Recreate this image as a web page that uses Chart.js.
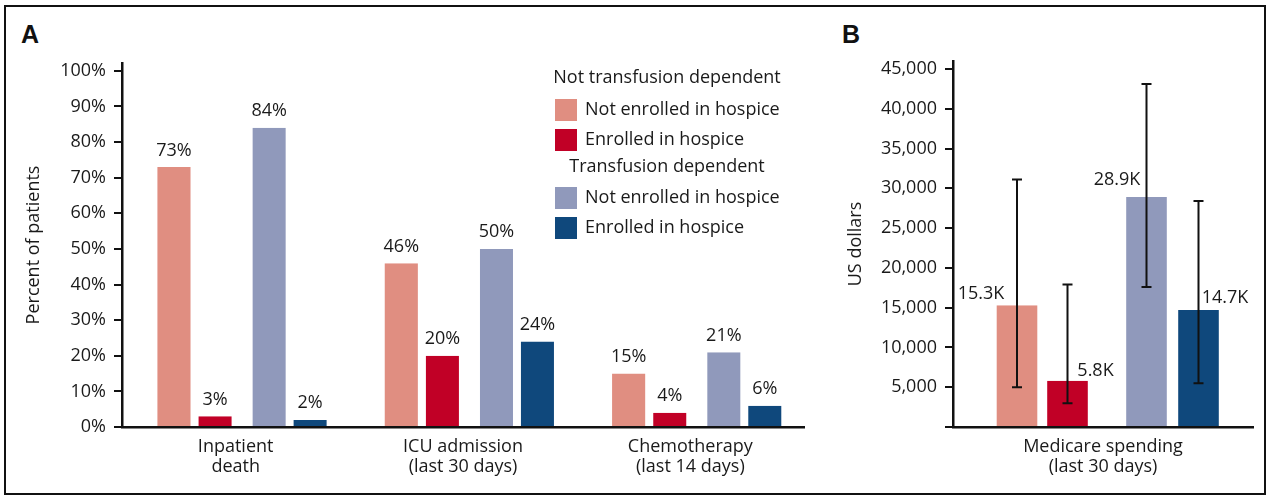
<!DOCTYPE html>
<html lang="en">
<head>
<meta charset="UTF-8" />
<title>Hospice enrollment outcomes</title>
<script src="https://cdn.jsdelivr.net/npm/chart.js"></script>
<style>
  body { margin: 0; width: 1269px; height: 496px; background: #fff; position: relative; overflow: hidden; }
  #frame { position: absolute; left: 4px; top: 5px; width: 1262px; height: 490px; border: 2px solid #111; box-sizing: border-box; }
  .tag { position: absolute; font: bold 25px "Liberation Sans", Arial, sans-serif; color: #111; }
  #chartA { position: absolute; left: 8px; top: 40px; }
  #chartB { position: absolute; left: 830px; top: 40px; }
</style>
</head>
<body>
<div id="frame"></div>
<div class="tag" style="left:21px; top:20px;">A</div>
<div class="tag" style="left:842px; top:20px;">B</div>
<canvas id="chartA" width="820" height="450"></canvas>
<canvas id="chartB" width="432" height="450"></canvas>

<script>
// ---- data ----
const categoriesA = [["Inpatient", "death"], ["ICU admission", "(last 30 days)"], ["Chemotherapy", "(last 14 days)"]];
const groupTitles = ["Not transfusion dependent", "Transfusion dependent"];
const seriesLabels = ["Not enrolled in hospice", "Enrolled in hospice", "Not enrolled in hospice", "Enrolled in hospice"];
const ntdNotEnrolled = [73, 46, 15];
const ntdEnrolled = [3, 20, 4];
const tdNotEnrolled = [84, 50, 21];
const tdEnrolled = [2, 24, 6];
const percentTicks = [0, 10, 20, 30, 40, 50, 60, 70, 80, 90, 100];

const categoriesB = [["Medicare spending", "(last 30 days)"]];
const spendingMean = [15300, 5800, 28900, 14700];
const spendingLow = [5000, 3000, 17600, 5500];
const spendingHigh = [31100, 17900, 43100, 28400];
const dollarTicks = [0, 5000, 10000, 15000, 20000, 25000, 30000, 35000, 40000, 45000];

const colors = ["#e08e81", "#c10026", "#9099bb", "#0f487c"];

// ---- styling ----
const FONT = '"Open Sans", "Noto Sans", sans-serif';
const font18 = { family: FONT, size: 18, lineHeight: 1.1 };
const ink = "#1a1a1a";
// transparent left/right borders trim each bar so pairs sit close together
const carveA = [[19.5, 6.5], [15.2, 10.9], [23.8, 2.3], [19.3, 6.8]];
const carveB = [[19.7, 11.7], [10.2, 21.2], [29.2, 2.2], [21.2, 10.2]];
const labelShiftB = [[-36, 6], [28, 5], [-29.5, 12], [26.5, 7]];

function carved(ds, c) {
  ds.carve = c;
  ds.borderWidth = { left: c[0], right: c[1], top: 0, bottom: 0 };
  ds.borderColor = "rgba(0,0,0,0)";
  ds.borderSkipped = false;
  ds.inflateAmount = 0;
  return ds;
}
function barCenter(bar, ds) {
  return bar.x + (ds.carve[0] - ds.carve[1]) / 2;
}

const valueLabels = {
  id: "valueLabels",
  afterDatasetsDraw(chart, args, opts) {
    const ctx = chart.ctx;
    ctx.save();
    ctx.font = "18px " + FONT;
    ctx.fillStyle = ink;
    ctx.textAlign = "center";
    ctx.textBaseline = "alphabetic";
    chart.data.datasets.forEach((ds, i) => {
      chart.getDatasetMeta(i).data.forEach((bar, j) => {
        const shift = ds.labelShift || [0, opts.gap];
        ctx.fillText(opts.format(ds.data[j]), barCenter(bar, ds) + shift[0], bar.y - shift[1]);
      });
    });
    ctx.restore();
  }
};

const errorBars = {
  id: "errorBars",
  afterDatasetsDraw(chart, args, opts) {
    const ctx = chart.ctx, y = chart.scales.y;
    ctx.save();
    ctx.strokeStyle = "#111";
    ctx.lineWidth = 2;
    chart.data.datasets.forEach((ds, i) => {
      const bar = chart.getDatasetMeta(i).data[0];
      const cx = barCenter(bar, ds);
      const top = y.getPixelForValue(opts.high[i]);
      const bot = y.getPixelForValue(opts.low[i]);
      ctx.beginPath();
      ctx.moveTo(cx, top); ctx.lineTo(cx, bot);
      ctx.moveTo(cx - 5, top); ctx.lineTo(cx + 5, top);
      ctx.moveTo(cx - 5, bot); ctx.lineTo(cx + 5, bot);
      ctx.stroke();
    });
    ctx.restore();
  }
};

const groupLegend = {
  id: "groupLegend",
  afterDraw(chart, args, opts) {
    const ctx = chart.ctx;
    ctx.save();
    ctx.font = "18px " + FONT;
    ctx.textBaseline = "middle";
    let row = 0;
    groupTitles.forEach((title, g) => {
      ctx.textAlign = "center";
      ctx.fillStyle = ink;
      ctx.fillText(title, opts.headX, opts.rows[row++]);
      [0, 1].forEach(k => {
        const i = g * 2 + k, yc = opts.rows[row++];
        ctx.fillStyle = colors[i];
        ctx.fillRect(opts.boxX, yc - 11, 22, 22);
        ctx.fillStyle = ink;
        ctx.textAlign = "left";
        ctx.fillText(chart.data.datasets[i].label, opts.boxX + 30, yc);
      });
    });
    ctx.restore();
  }
};

function yAxis(opts) {
  return {
    min: 0,
    max: opts.max,
    afterBuildTicks: s => { s.ticks = opts.ticks.map(v => ({ value: v })); },
    afterFit: s => { s.width = opts.width; },
    ticks: { font: font18, color: ink, padding: 8, callback: opts.fmt },
    grid: { drawOnChartArea: false, drawTicks: true, tickLength: 8, color: "#111", lineWidth: 2 },
    border: { color: "#111", width: 2.5 },
    title: { display: true, text: opts.title, font: font18, color: ink, padding: { top: 16, bottom: 0 } }
  };
}
const xAxis = {
  grid: { display: false, drawTicks: false },
  border: { color: "#111", width: 2.5 },
  ticks: { font: font18, color: ink, padding: 10, maxRotation: 0, autoSkip: false },
  afterFit: s => { s.height = 63; }
};

// ---- panel A ----
const seriesA = [ntdNotEnrolled, ntdEnrolled, tdNotEnrolled, tdEnrolled];
new Chart(document.getElementById("chartA"), {
  type: "bar",
  data: {
    labels: categoriesA,
    datasets: seriesA.map((d, i) => carved({
      label: seriesLabels[i], data: d, backgroundColor: colors[i],
      categoryPercentage: 0.8, barPercentage: 1.3
    }, carveA[i]))
  },
  options: {
    responsive: false,
    animation: false,
    layout: { padding: { top: 23, right: 24, bottom: 0, left: 0 } },
    plugins: {
      legend: { display: false },
      tooltip: { enabled: false },
      valueLabels: { gap: 11.5, format: v => v + "%" },
      groupLegend: { headX: 659, boxX: 547, rows: [38, 70, 100, 127, 158, 188] }
    },
    scales: {
      x: xAxis,
      y: yAxis({ max: 102.2, ticks: percentTicks, width: 114, title: "Percent of patients", fmt: v => v + "%" })
    }
  },
  plugins: [valueLabels, groupLegend]
});

// ---- panel B ----
new Chart(document.getElementById("chartB"), {
  type: "bar",
  data: {
    labels: categoriesB,
    datasets: spendingMean.map((v, i) => {
      const ds = carved({
        label: seriesLabels[i], data: [v], backgroundColor: colors[i],
        categoryPercentage: 0.8, barPercentage: 1.2
      }, carveB[i]);
      ds.labelShift = labelShiftB[i];
      return ds;
    })
  },
  options: {
    responsive: false,
    animation: false,
    layout: { padding: { top: 21, right: 9, bottom: 0, left: 0 } },
    plugins: {
      legend: { display: false },
      tooltip: { enabled: false },
      valueLabels: { gap: 8, format: v => (v / 1000).toFixed(1) + "K" },
      errorBars: { low: spendingLow, high: spendingHigh }
    },
    scales: {
      x: xAxis,
      y: yAxis({
        max: 46000, ticks: dollarTicks, width: 123, title: "US dollars",
        fmt: v => v === 0 ? "" : v.toLocaleString("en-US")
      })
    }
  },
  plugins: [errorBars, valueLabels]
});
</script>
</body>
</html>
